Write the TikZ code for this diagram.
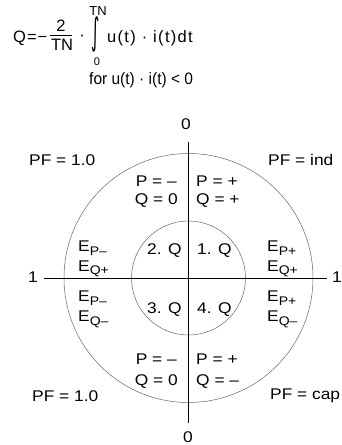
\documentclass[tikz,border=0pt]{standalone}
\usepackage{fontspec}
\setmainfont{Liberation Sans}[FakeStretch=1.12]
\newfontfamily\formfont{Liberation Sans}
\newfontfamily\formwide{Liberation Sans}[LetterSpace=8]
\newfontfamily\fornarrow{Liberation Sans}[FakeStretch=0.94]
\newfontfamily\symfont{DejaVu Sans}
\newcommand\Esub[1]{E\raisebox{-3.5pt}{\fontsize{12.5}{13}\selectfont #1}}
\begin{document}
\begin{tikzpicture}[x=1pt,y=-1pt,
  lbl/.style={font=\fontsize{15.5}{17}\selectfont, inner sep=0pt, anchor=base west},
  lble/.style={lbl, anchor=base east},
  form/.style={font=\formfont\fontsize{16.5}{18}\selectfont, inner sep=0pt, anchor=base west},
  axis/.style={line width=0.9pt, black},
  circ/.style={draw=black!60, line width=0.5pt, circle, inner sep=0pt}]
\useasboundingbox (0,0) rectangle (342,445);
% formula
\node[form] (fQ) at (13,42) {Q\kern1pt=\kern1pt−};
\node[form, anchor=base] (f2) at (61,31) {2};
\node[form, anchor=base] (fTN) at (62,50) {TN};
\coordinate (barL) at (50,35);
\coordinate (barR) at (72,35);
\draw[line width=0.8pt] (barL) -- (barR);
\node[form, anchor=base] (fdot) at (82,40) {·};
\node[inner sep=0pt] (fint) at (96,34) {\scalebox{1}[2.3]{\symfont\fontsize{16}{16}\selectfont ∫}};
\node[form, anchor=base, font=\formfont\fontsize{13}{14}\selectfont] (fup) at (98,15) {TN};
\node[form, anchor=base, font=\formfont\fontsize{11}{12}\selectfont] (flo) at (97,65) {0};
\node[form, font=\formwide\fontsize{16.5}{18}\selectfont] (fbody) at (107,42) {u(t) · i(t)dt};
\node[form, font=\fornarrow\fontsize{16.5}{18}\selectfont] (ffor) at (89,84) {for u(t) · i(t) < 0};
% diagram
\coordinate (C) at (188.5,278);
\node[circ, minimum size=249pt] (outer) at (C) {};
\node[circ, minimum size=114pt] (inner) at (C) {};
\coordinate (vt) at (188.5,142);
\coordinate (vb) at (188.5,423);
\coordinate (hl) at (44,278);
\coordinate (hr) at (327,278);
\draw[axis] (vt) -- (vb);
\draw[axis] (hl) -- (hr);
% axis labels
\node[lbl, anchor=base] (z0t) at (186,129.5) {0};
\node[lbl, anchor=base] (z0b) at (188,442) {0};
\node[lbl, anchor=base] (o1l) at (33,282.5) {1};
\node[lbl] (o1r) at (332,282.5) {1};
% PF labels
\node[lbl] (pftl) at (29,165.5) {PF = 1.0};
\node[lbl] (pftr) at (268,165.5) {PF = ind};
\node[lbl] (pfbl) at (32,401.5) {PF = 1.0};
\node[lbl] (pfbr) at (270,399.5) {PF = cap};
% P/Q labels
\node[lble] (ptl) at (177,186.5) {P = –};
\node[lble] (qtl) at (178,204.5) {Q = 0};
\node[lbl] (ptr) at (196,186.5) {P = +};
\node[lbl] (qtr) at (196,204.5) {Q = +};
\node[lble] (pbl) at (177,364.5) {P = –};
\node[lble] (qbl) at (178,385.5) {Q = 0};
\node[lbl] (pbr) at (196,364.5) {P = +};
\node[lbl] (qbr) at (196,385.5) {Q = –};
% E labels
\node[lbl] (etl1) at (78,251.5) {\Esub{P–}};
\node[lbl] (etl2) at (78,271) {\Esub{Q+}};
\node[lbl] (etr1) at (267,251.5) {\Esub{P+}};
\node[lbl] (etr2) at (267,271) {\Esub{Q+}};
\node[lbl] (ebl1) at (78,301.5) {\Esub{P–}};
\node[lbl] (ebl2) at (78,321.5) {\Esub{Q–}};
\node[lbl] (ebr1) at (267,301.5) {\Esub{P+}};
\node[lbl] (ebr2) at (267,321.5) {\Esub{Q–}};
% quadrant labels
\node[lbl] (q2) at (147,254.5) {2. Q};
\node[lbl] (q1) at (197,254.5) {1. Q};
\node[lbl] (q3) at (147,313.5) {3. Q};
\node[lbl] (q4) at (197,313.5) {4. Q};
\end{tikzpicture}
\end{document}
